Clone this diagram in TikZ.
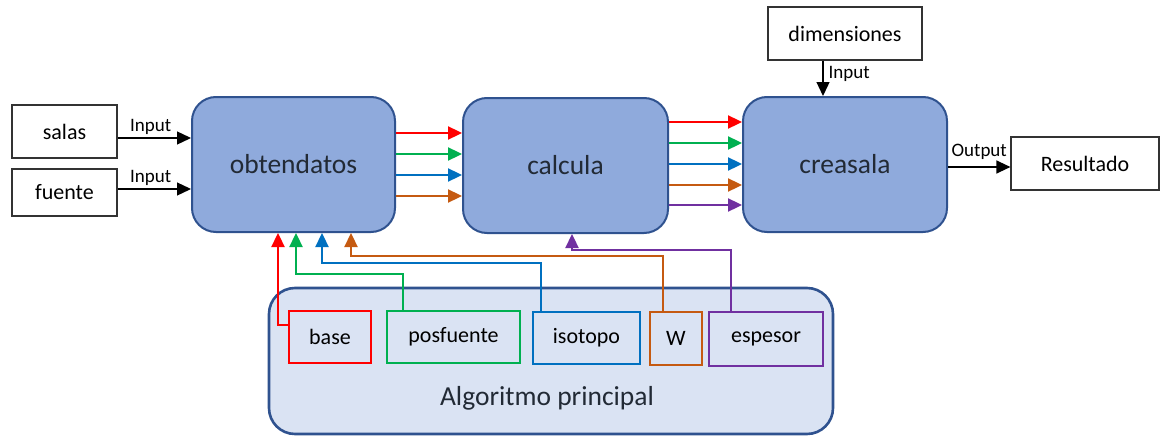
\documentclass[tikz,border=0pt]{standalone}
\usepackage{fontspec}
\setmainfont{Carlito}
\usetikzlibrary{arrows.meta,calc}

\definecolor{blockfill}{HTML}{8FAADC}
\definecolor{blockline}{HTML}{2F528F}
\definecolor{panelfill}{HTML}{DAE3F3}
\definecolor{blocktext}{HTML}{222A35}
\definecolor{cred}{HTML}{FF0000}
\definecolor{cgreen}{HTML}{00B050}
\definecolor{cblue}{HTML}{0070C0}
\definecolor{corange}{HTML}{C55A11}
\definecolor{cpurple}{HTML}{7030A0}

\tikzset{
  block/.style={draw=blockline, line width=2pt, fill=blockfill, rounded corners=24pt,
    minimum width=203pt, minimum height=135pt, inner sep=0pt,
    text=blocktext, font=\fontsize{27.5}{32}\selectfont},
  iobox/.style={draw=black!80, line width=1.2pt, fill=white, minimum height=53pt,
    inner sep=0pt, font=\fontsize{22}{26}\selectfont},
  parambox/.style={line width=2.4pt, fill=panelfill, minimum height=52pt,
    inner sep=0pt, text=black, font=\fontsize{22}{26}\selectfont},
  panel/.style={draw=blockline, line width=2.6pt, fill=panelfill, rounded corners=26pt,
    minimum width=564pt, minimum height=146pt, inner sep=0pt},
  flow/.style={line width=2.3pt, -{Triangle[length=14pt,width=13pt]}},
  io/.style={line width=1.3pt, black, -{Triangle[length=14pt,width=13pt]}},
  iolabel/.style={inner sep=0pt, font=\fontsize{19}{22}\selectfont}
}

\begin{document}
\begin{tikzpicture}[x=1pt,y=-1pt]
\useasboundingbox (0,0) rectangle (1161,436);

% main processing blocks
\node[block] (obt) at (293.5,164.5) {obtendatos};
\node[block, minimum width=205pt] (calc) at (565.5,165.5) {calcula};
\node[block, minimum width=204pt] (cre) at (845,164.5) {creasala};

% inputs and result
\node[iobox, minimum width=105pt] (salas) at (64.5,131.5) {salas};
\node[iobox, minimum width=105pt, minimum height=47pt] (fuente) at (64.5,192.5) {fuente};
\node[iobox, minimum width=154pt] (dim) at (845,33.5) {dimensiones};
\node[iobox, minimum width=148pt] (res) at (1085,163.5) {Resultado};

% parameter panel
\node[panel] (alg) at (551,361) {};
\node[inner sep=0pt, text=blocktext, font=\fontsize{27.5}{32}\selectfont] (algtxt) at (547,398) {Algoritmo principal};
\node[parambox, draw=cred, minimum width=82pt] (base) at (330,337) {base};
\node[parambox, draw=cgreen, minimum width=133pt] (pos) at (453.5,337) {posfuente};
\node[parambox, draw=cblue, minimum width=107pt] (iso) at (586.5,338) {isotopo};
\node[parambox, draw=corange, minimum width=52pt, minimum height=53pt] (w) at (676,338.5) {W};
\node[parambox, draw=cpurple, minimum width=114pt, minimum height=54pt] (esp) at (766,339) {espesor};

% inputs into the blocks
\draw[io] ([yshift=-6.5pt]salas.east) -- ([yshift=-6.5pt]salas.east -| obt.west)
  node[iolabel, pos=0.45, above=3pt] (lin1) {Input};
\draw[io] ([yshift=3.5pt]fuente.east) -- ([yshift=3.5pt]fuente.east -| obt.west)
  node[iolabel, pos=0.45, above=3pt] (lin2) {Input};
\draw[io] ([xshift=-22pt]dim.south) -- ([xshift=-22pt]dim.south |- cre.north)
  node[iolabel, pos=0.38, right=5pt] (lin3) {Input};
\draw[io] ([yshift=-2.5pt]cre.east) -- ([yshift=-2.5pt]cre.east -| res.west)
  node[iolabel, pos=0.5, above=7pt] (lout) {Output};

% data passed from obtendatos to calcula
\draw[flow, cred]    ([yshift=31.5pt]obt.east)  -- ([yshift=31.5pt]obt.east -| calc.west);
\draw[flow, cgreen]  ([yshift=10.5pt]obt.east)  -- ([yshift=10.5pt]obt.east -| calc.west);
\draw[flow, cblue]   ([yshift=-10.5pt]obt.east) -- ([yshift=-10.5pt]obt.east -| calc.west);
\draw[flow, corange] ([yshift=-31.5pt]obt.east) -- ([yshift=-31.5pt]obt.east -| calc.west);

% data passed from calcula to creasala
\draw[flow, cred]    ([yshift=43.5pt]calc.east)  -- ([yshift=43.5pt]calc.east -| cre.west);
\draw[flow, cgreen]  ([yshift=22.5pt]calc.east)  -- ([yshift=22.5pt]calc.east -| cre.west);
\draw[flow, cblue]   ([yshift=1.5pt]calc.east)   -- ([yshift=1.5pt]calc.east -| cre.west);
\draw[flow, corange] ([yshift=-19.5pt]calc.east) -- ([yshift=-19.5pt]calc.east -| cre.west);
\draw[flow, cpurple] ([yshift=-39.5pt]calc.east) -- ([yshift=-39.5pt]calc.east -| cre.west);

% parameters feeding the blocks
\draw[flow, cred]    ([yshift=12pt]base.west) -| ([xshift=-15.5pt]obt.south);
\draw[flow, cgreen]  ([xshift=-50.5pt]pos.north) -- ++(0,-36) -| ([xshift=2.5pt]obt.south);
\draw[flow, cblue]   ([xshift=-45.5pt]iso.north) -- ++(0,-48) -| ([xshift=28.5pt]obt.south);
\draw[flow, corange] ([xshift=-13pt]w.north) -- ++(0,-55) -| ([xshift=57.5pt]obt.south);
\draw[flow, cpurple] ([xshift=-35pt]esp.north) -- ++(0,-61) -| ([xshift=6.5pt]calc.south);
\end{tikzpicture}
\end{document}
